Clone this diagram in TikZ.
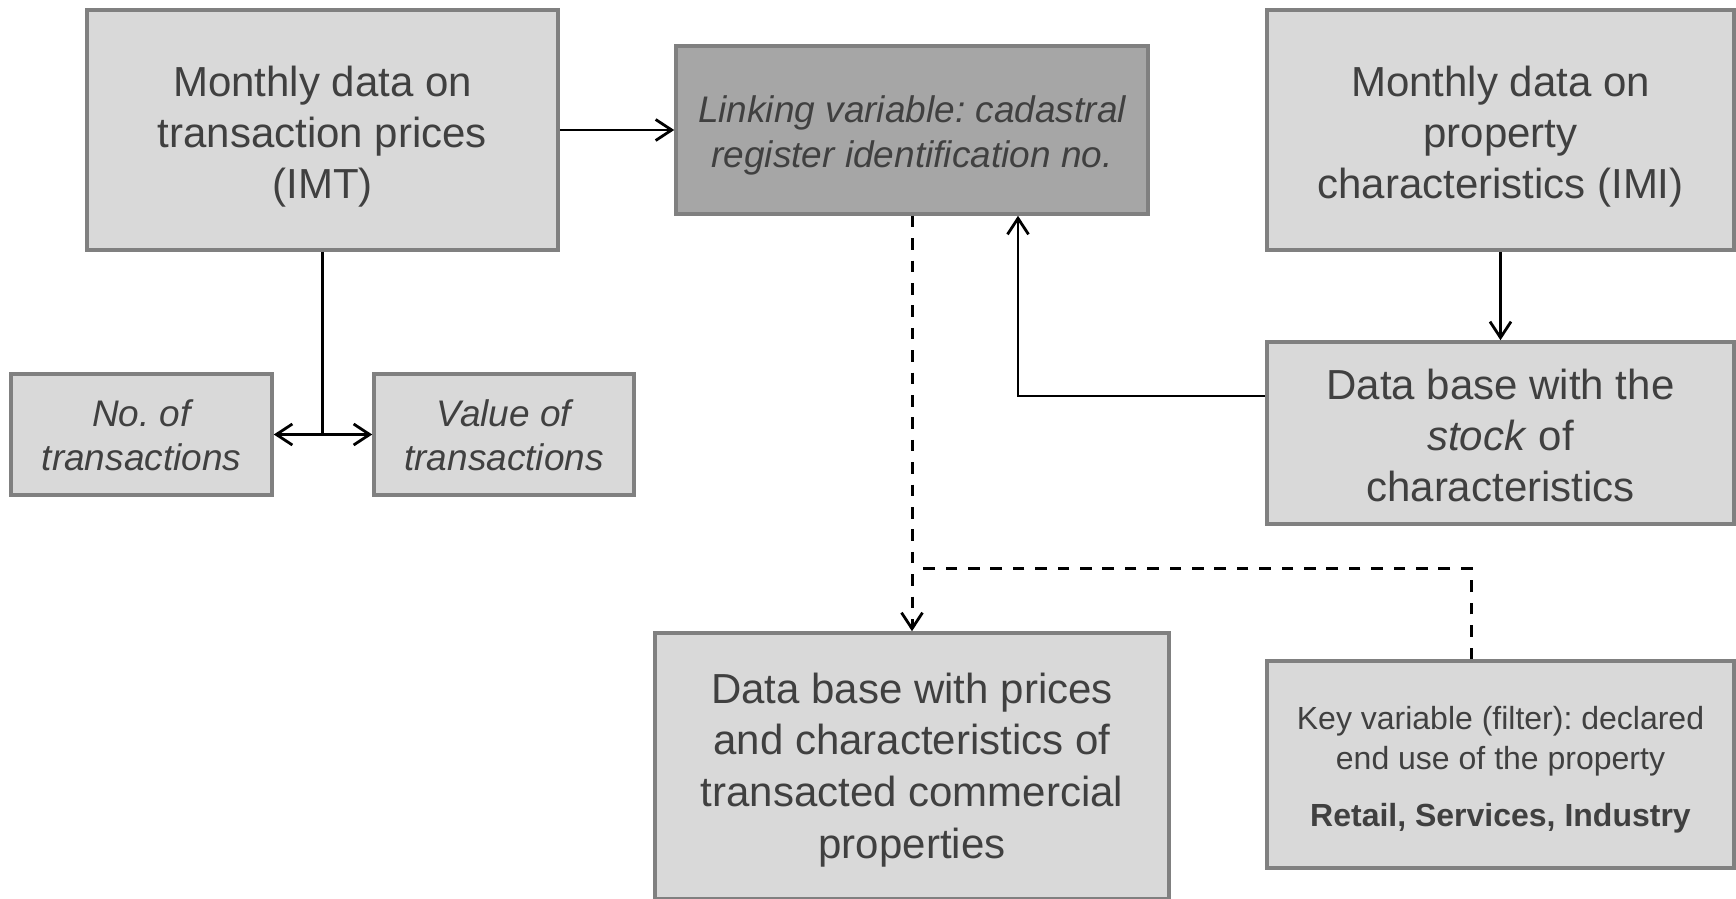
\documentclass[tikz,border=0pt]{standalone}
\usepackage{fontspec}
\setmainfont{Liberation Sans}
\frenchspacing
\usetikzlibrary{arrows.meta}
\definecolor{txt}{HTML}{404040}
\definecolor{boxfill}{HTML}{D9D9D9}
\definecolor{boxdraw}{HTML}{808080}
\definecolor{darkfill}{HTML}{A6A6A6}
\begin{document}
\begin{tikzpicture}[x=0.5pt,y=-0.5pt,
  box/.style={draw=boxdraw, fill=boxfill, line width=1.8pt, inner sep=0pt},
  tx/.style={text=txt, align=center, inner sep=0pt},
  big/.style={font=\fontsize{21}{25.5}\selectfont},
  ital/.style={font=\itshape\fontsize{18.5}{22}\selectfont},
  conn/.style={line width=1.4pt, draw=black},
  arr/.style={-{Straight Barb[length=8pt,width=10.5pt,line width=1.4pt]}},
  dsh/.style={line width=1.5pt, dash pattern=on 5.8pt off 5.4pt}]
\useasboundingbox (0,0) rectangle (1736,899);
% boxes
\node[box,minimum width=235.5pt,minimum height=120pt] (A) at (322.5,130) {};
\node[box,fill=darkfill,minimum width=236pt,minimum height=84pt] (L) at (912,130) {};
\node[box,minimum width=233.5pt,minimum height=120pt] (R1) at (1500.5,130) {};
\node[box,minimum width=233.5pt,minimum height=91pt] (R2) at (1500.5,433) {};
\node[box,minimum width=130.5pt,minimum height=60.5pt] (N) at (141.5,434.5) {};
\node[box,minimum width=130pt,minimum height=60.5pt] (V) at (504,434.5) {};
\node[box,minimum width=257pt,minimum height=133pt] (D) at (912,766) {};
\node[box,minimum width=233.5pt,minimum height=103.5pt] (K) at (1500.5,764.5) {};
% texts
\node[tx,big] (At) at ([yshift=-3.3pt]A.center) {Monthly data on\\transaction prices\\(IMT)};
\node[tx,font=\itshape\fontsize{18.5}{22.5}\selectfont] (Lt) at ([yshift=-2.5pt]L.center) {Linking variable: cadastral\\register identification no.};
\node[tx,big] (R1t) at ([yshift=-3.3pt]R1.center) {Monthly data on\\property\\characteristics (IMI)};
\node[tx,big] (R2t) at ([yshift=-1.4pt]R2.center) {Data base with the\\\textit{stock} of\\characteristics};
\node[tx,ital] (Nt) at ([yshift=-0.6pt]N.center) {No. of\\transactions};
\node[tx,ital] (Vt) at ([yshift=-0.6pt]V.center) {Value of\\transactions};
\node[tx,font=\fontsize{21}{25.8}\selectfont] (Dt) at ([yshift=-1.9pt]D.center) {Data base with prices\\and characteristics of\\transacted commercial\\properties};
\node[tx,font=\fontsize{16}{20}\selectfont] (Kt) at ([yshift=-2.5pt]K.center) {Key variable (filter): declared\\end use of the property\\[8.5pt]\textbf{Retail, Services, Industry}};
% connectors
\draw[conn,arr] (A.east) -- (L.west);
\coordinate (j) at (A.south |- N.east);
\draw[conn] (A.south) -- (j);
\draw[conn,arr] (j) -- (N.east);
\draw[conn,arr] (j) -- (V.west);
\draw[conn,arr] (R1.south) -- (R2.north);
\coordinate (s) at ([yshift=18.5pt]R2.west);
\coordinate (u) at ([xshift=53pt]L.south);
\draw[conn,arr] (s) -| (u);
\draw[conn,dsh,arr] (L.south) -- (D.north);
\coordinate (kt) at ([xshift=-14.75pt]K.north);
\coordinate (kc) at ([yshift=45.5pt]kt);
\coordinate (ke) at ([xshift=5.5pt]kc -| L.south);
\draw[conn,dsh] (kt) -- (kc) -- (ke);
\end{tikzpicture}
\end{document}
